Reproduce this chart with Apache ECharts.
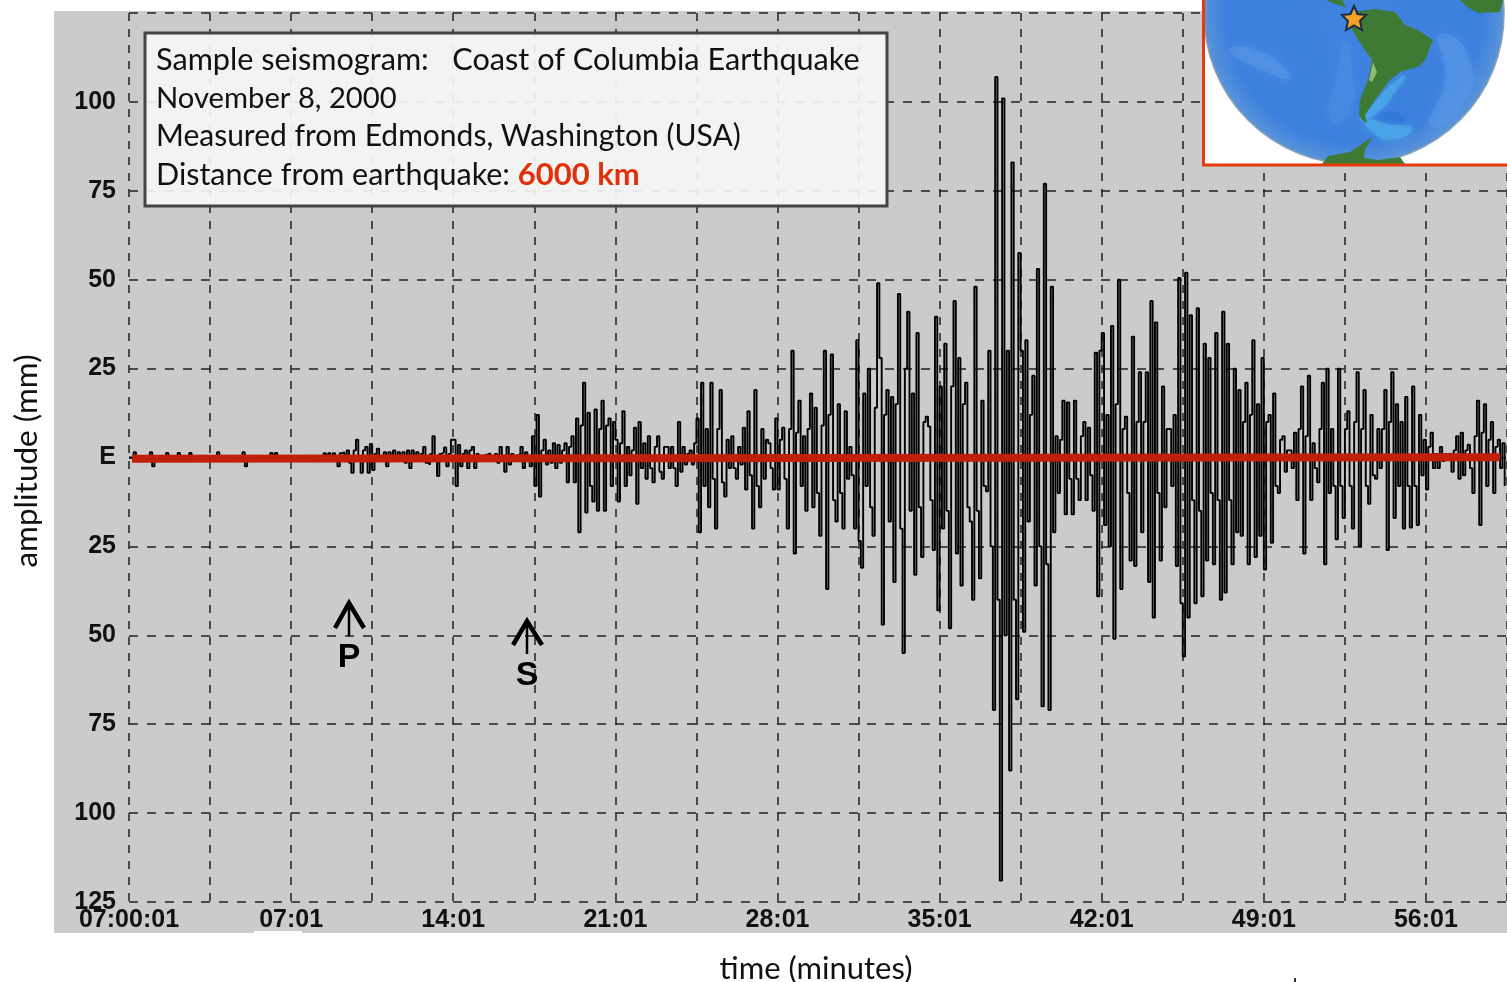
<!DOCTYPE html>
<html><head><meta charset="utf-8">
<style>html,body{margin:0;padding:0;background:#fff}#c{width:1507px;height:982px}</style>
<script src="https://cdn.jsdelivr.net/npm/echarts@6/dist/echarts.min.js"></script>
</head><body><div id="c"></div>
<script>
// one row per 3.5-minute grid cell, one sample every 0.1 minute, amplitude in mm
const sampleStepMin = 0.1;
const cellMin = 3.5;
const traceCells = [
[0,0,1.5,0,0,0,0,0,0,1.5,-2.5,0,0,0,0,0,1.3,0,0,0,0,1.3,0,0,0,0,1.3,0,0,0,0,0,0,0,0],
[0,0,0,1.5,0,0,0,0,0,0,0,0,0,0,1.5,-2.5,0,0,0,0,0,0,0,0,0,0,1.3,0,1.3,0,0,0,0,0,0],
[0,0,0,0,0,0,0,0,0,0,0,0,0,0,1.2,-0.5,1.2,-0.5,1.2,-1,-2.5,1.2,1.4,-1,2,-1.5,-4.3,2,5,-1,-4.3,2,3,-4.3,3.8],
[-3.5,1,2.5,0,-0.5,1.5,-2.5,1.5,0,2,-0.5,1.5,0,1.5,-1.5,2,-3,2,-1,1.5,-1,1,3,-1.5,-2,1,6,-1,-5.2,1,1.5,2.8,-2.5,1,5],
[5,-8,3.5,-2.5,1,2,-3,2,3,-3,1,0,-0.5,0,0.8,1.2,0.5,-1,1,-1.5,3,-1,-4,3,-2,1,-0.8,0.5,1,3,-3,1.5,-1,-2.5,6],
[-8,12,-11,2,5,-2,2,-1.5,4,-3,3.5,-1.5,2,4,-7,3,6,-7,11,-21,9,21,-15.5,12.6,-8,-12.4,13.5,-15,8,16,-15,9,11,-8,10],
[5,-12.4,4,13,-8,3,-5,2,8.4,-13,10,-3,4,-6,6,-3,-7,3,6,-4,-6,3,3,-3,3,-3,-8,10,-4,3,-2,1,2,-2,4],
[11,-21,21,-8,8,-14,21,-6,-20,8,19,-7,-11,5,-3,6,-3,-6,3,-2,8.4,-9,13,-5,-20,19,-8,-14,8,-6,5,4,-3,-9,11],
[-9,5,8.4,-6,-20,8,30,-27,7,16,-8,6,-15,8,18,-14,14,-10,-22,9,30,-37,12,29,-12,-18,15,-10,-20,13,-6,3,-5,-20,33],
[-23.5,-31,18,-8,25,-14,-22,14,49,28,-47,12,19,-18,17,-35,15,46,-20,-55,25,41,-15,18,-33,35,-14,-28,10,11.5,8.7,-12,-26,39.6,-43],
[20,-20,32,-15,-48,20,44,-27,28,-36,15,21,-14,-18,-40,48,-15,-34,16,-8,-9.5,30,-25,-71,107,-40,-119,101,-50,30,-88,83,-40,-68,57.5],
[30,-49,33,-18,12,23,-36,53,-25,-70,77,-30,-71,48,-21,6,-10,5,16,-16,15.5,-6,-16,16,-6,-12,6,10,-12,8.4,-5,-15,29.5,-39,30],
[35,-19,12,-25,37,-51,15,50,-37,8,11.5,-10,-29,34,-30.5,10,24,-21,10,24,-35,44,-45,38,-10,-29,20,-14,8,8,-8,12,-30.5,50.5,-41],
[-56,52,-45,40,-12,-41,42,-15,-39,32,-29,28,-10,-30,35,-12,-40,41,-38,32,-12,-30,25,-21,19,-22,10,21,-30,12,33,-28,15,-22,28],
[-31.5,10,12,-24,18,-8,-10,5,6,-4,2,2,-3,7,-12,8,20,-27,6,23,-12,4,-3,-7,8,21,-30,25,-10,8,-8,-23,25,-8,-17],
[8,13,-8,-20,10,24,-25,8,19,-8,-13,12,-5,-6,8,-3,8,19,-26,10,24,-17,15,-8,10,-20,17,-8,-19.7,20,-8,-19,12,-5,5],
[-9,3,7,-3,1,-3,3,-1,1,-0.5,1,-4,2,6,-6,7,-5,2,3.6,-3,-10,6,16,-19,7,15,-8,5,10,-10,3,5,-3,4,-8]
];
const baselineMin = [0.13, 59.2];
const baselineAmp = [-0.35, 0.1];
const xRange = [0, 59.5];
const yRange = [-125, 125];
const annotationLines = [
  'Sample seismogram:   Coast of Columbia Earthquake',
  'November 8, 2000',
  'Measured from Edmonds, Washington (USA)'
];
const annotationSizes = [30.65, 29.2, 30];
const distanceLabel = 'Distance from earthquake: ';
const distanceValue = '6000 km';

const trace = [];
traceCells.forEach((cell, k) => cell.forEach((a, j) => {
  trace.push([+(k * cellMin + j * sampleStepMin).toFixed(2), a]);
}));

const TF = 'Lato, "Open Sans", sans-serif';
const LF = '"Liberation Sans", Arial, sans-serif';
const land = '#3f7a35', shelf = '#4aa8e8';
function xLabel(v) {
  if (v === 0) return '07:00:01';
  if (Math.round(v / cellMin) % 2) return '';
  return String(v).padStart(2, '0') + ':01';
}
function blob(pts, fill, blur, op) {
  return {type:'polygon', z:112, shape:{points:pts, smooth:0.6}, style:{fill:fill, shadowBlur:blur||6, shadowColor:fill, opacity:op||0.45}};
}
const graphics = [
  {type:'rect', z:-100, silent:true, shape:{x:54,y:11,width:1453,height:922}, style:{fill:'#cbcbcb'}},
  {type:'rect', z:-99, silent:true, shape:{x:254,y:931,width:48,height:2}, style:{fill:'#ffffff'}},
  {type:'rect', z:-99, silent:true, shape:{x:1294,y:978,width:2,height:4}, style:{fill:'#333'}},
  // annotation box
  {type:'rect', z:100, shape:{x:145,y:33,width:742,height:173}, style:{fill:'rgba(246,246,246,0.92)', stroke:'#444', lineWidth:3}},
  ...annotationLines.map((t,i)=>({type:'text', z:101, x:156, y:60+i*38.3,
     style:{text:t, font:annotationSizes[i]+'px '+TF, fill:'#111', textVerticalAlign:'middle'}})),
  {type:'text', z:101, x:156, y:175, style:{text:'{a|'+distanceLabel+'}{b|'+distanceValue+'}', textVerticalAlign:'middle',
     rich:{a:{font:'30.5px '+TF, fill:'#111'}, b:{font:'bold 31px '+TF, fill:'#e0300c'}}}},
  // P and S arrival arrows
  {type:'polyline', z:50, shape:{points:[[349,636],[349,602]]}, style:{stroke:'#000',lineWidth:2.5,fill:null}},
  {type:'polyline', z:50, shape:{points:[[335,628],[349,603],[364,628]]}, style:{stroke:'#000',lineWidth:4.5,fill:null}},
  {type:'text', z:50, x:349, y:658, style:{text:'P', font:'bold 34px '+LF, fill:'#000', textAlign:'center', textVerticalAlign:'middle'}},
  {type:'polyline', z:50, shape:{points:[[527,654],[527,620]]}, style:{stroke:'#000',lineWidth:2.5,fill:null}},
  {type:'polyline', z:50, shape:{points:[[513,645],[527,621],[542,645]]}, style:{stroke:'#000',lineWidth:4.5,fill:null}},
  {type:'text', z:50, x:527, y:676, style:{text:'S', font:'bold 34px '+LF, fill:'#000', textAlign:'center', textVerticalAlign:'middle'}},
  // inset globe
  {type:'rect', z:110, shape:{x:1203,y:-5,width:310,height:170}, style:{fill:'#ffffff'}},
  {type:'circle', z:111, shape:{cx:1354,cy:14,r:150}, style:{stroke:'#8aa0b8', lineWidth:1.5, fill:{type:'radial',x:0.5,y:0.5,r:0.5,colorStops:[{offset:0,color:'#3f82e0'},{offset:0.85,color:'#3c80de'},{offset:1,color:'#5b95d8'}]}}},
  blob([[1230,50],[1262,52],[1290,78],[1262,70]], '#5c9ae6', 10),
  blob([[1345,40],[1352,70],[1350,110],[1330,120],[1338,70]], '#4f8fe4', 10),
  blob([[1440,35],[1470,60],[1460,110],[1430,125],[1445,80]], '#5b9ae8', 10),
  blob([[1372,122],[1395,112],[1405,128],[1385,136]], '#2f72d8', 8),
  blob([[1366,120],[1388,124],[1412,128],[1392,140],[1372,132]], shelf, 6, 0.7),
  blob([[1360,120],[1375,102],[1392,84],[1405,76],[1395,92],[1378,112]], shelf, 4, 0.7),
  {type:'polygon', z:113, shape:{points:[[1352,12],[1375,9],[1395,12],[1405,25],[1418,30],[1433,40],[1426,58],[1420,66],[1400,72],[1390,80],[1375,100],[1365,115],[1367,123],[1362,120],[1359,115],[1360,100],[1368,80],[1372,60],[1365,50],[1355,35],[1350,25]]}, style:{fill:land}},
  {type:'polygon', z:114, shape:{points:[[1365,50],[1372,60],[1377,72],[1372,82],[1369,80],[1373,62]]}, style:{fill:'#8dbb7a'}},
  {type:'polygon', z:113, shape:{points:[[1326,0],[1342,0],[1346,7],[1338,5]]}, style:{fill:land}},
  {type:'polygon', z:113, shape:{points:[[1460,0],[1503,0],[1500,12],[1478,13],[1466,6]]}, style:{fill:land}},
  {type:'polygon', z:113, shape:{points:[[1322,164],[1328,156],[1350,152],[1362,144],[1372,137],[1365,150],[1364,158],[1378,160],[1400,157],[1405,164]]}, style:{fill:land}},
  {type:'rect', z:115, shape:{x:1203.5,y:-5,width:310,height:170}, style:{fill:null, stroke:'#e8380d', lineWidth:3}},
  {type:'polygon', z:116, shape:{points:[[1354,6],[1357.5,14],[1366,15],[1360,21],[1362,30],[1354,25.5],[1346,30],[1348,21],[1342,15],[1350.5,14]]}, style:{fill:'#f5a128', stroke:'#1a2a44', lineWidth:2}}
];
const chart = echarts.init(document.getElementById('c'), null, {renderer:'canvas', width:1507, height:982});
chart.setOption({
  animation:false,
  backgroundColor:'#ffffff',
  grid:{left:129, top:13, width:1378, height:889, containLabel:false, outerBoundsMode:'none'},
  xAxis:{type:'value', min:xRange[0], max:xRange[1], interval:cellMin,
    name:'time (minutes)', nameLocation:'middle', nameGap:51,
    nameTextStyle:{fontFamily:TF, fontSize:31, color:'#111', padding:[0,4,0,0]},
    axisLine:{show:false}, axisTick:{show:false},
    axisLabel:{formatter:xLabel, showMinLabel:true, showMaxLabel:false, hideOverlap:false, margin:6,
      fontFamily:LF, fontWeight:'bold', fontSize:25, color:'#111'},
    splitLine:{show:true, lineStyle:{color:'#222', width:1.5, type:[8,8]}}},
  yAxis:{type:'value', min:yRange[0], max:yRange[1], interval:25,
    name:'amplitude (mm)', nameLocation:'middle', nameGap:86, nameRotate:90,
    nameTextStyle:{fontFamily:TF, fontSize:31.5, color:'#111', padding:[0,7,0,0]},
    axisLine:{show:false}, axisTick:{show:false},
    axisLabel:{formatter:v=> v===0?'E':(v===125?'':String(Math.abs(v))), margin:13, hideOverlap:false,
      fontFamily:LF, fontWeight:'bold', fontSize:25, color:'#111'},
    splitLine:{show:true, lineStyle:{color:'#222', width:1.5, type:[9,9]}}},
  series:[
    {type:'line', data:trace, step:'end', showSymbol:false, silent:true, z:5,
      lineStyle:{color:'#000', width:1.9}},
    {type:'line', data:baselineMin.map((m,i)=>[m,baselineAmp[i]]), showSymbol:false, silent:true, z:6,
      lineStyle:{color:'#c0200a', width:8, cap:'butt'}}
  ],
  graphic:{elements:graphics}
});
</script></body></html>
